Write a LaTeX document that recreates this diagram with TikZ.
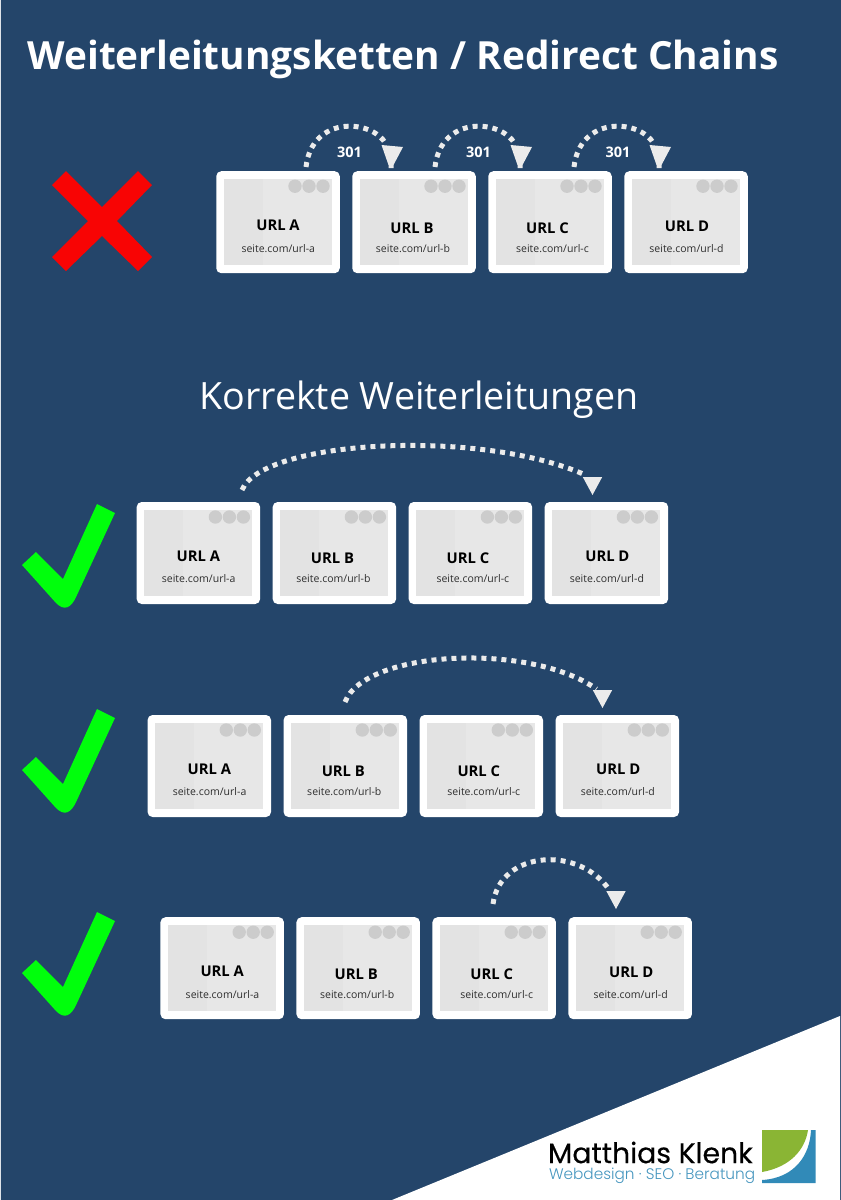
\documentclass[tikz,border=0pt]{standalone}
\usepackage{fontspec}
\setmainfont{Open Sans}
\newfontfamily\logofont[FakeBold=0.35]{Poppins}
\newfontfamily\tagfont{Poppins Light}
\usetikzlibrary{calc}
\definecolor{bgblue}{HTML}{24456A}
\definecolor{cardgrey}{HTML}{E7E7E7}
\definecolor{bandgrey}{HTML}{E3E3E3}
\definecolor{dotgrey}{HTML}{CCCCCC}
\definecolor{arcgrey}{HTML}{EBEBEB}
\definecolor{logogreen}{HTML}{8AB534}
\definecolor{logoblue}{HTML}{318AB8}
\definecolor{crossred}{HTML}{F80404}
\definecolor{checkgreen}{HTML}{00FF0C}
\tikzset{
  every node/.style={inner sep=0pt,outer sep=0pt},
  cardbox/.style={fill=white,rounded corners=5pt,minimum width=123.5pt,minimum height=102pt},
  titletext/.style={font=\fontsize{14.8}{16}\selectfont\bfseries,text=black},
  urltext/.style={font=\fontsize{10.5}{12}\selectfont,text=black!82},
  arcline/.style={draw=arcgrey,line width=5pt,dash pattern=on 5pt off 5pt},
  tipshape/.style={fill=arcgrey,draw=none},
  labeltext/.style={font=\fontsize{14.5}{16}\selectfont\bfseries,text=white},
}
% \cardat{name}{cx}{cy}{Letter}{letter}{title dx}{title dy}{url dx}
\newcommand{\cardat}[8]{%
  \node[cardbox] (#1) at (#2,#3) {};
  \fill[cardgrey] ($(#1.center)+(-54,-43)$) rectangle ($(#1.center)+(54,43)$);
  \fill[bandgrey] ($(#1.center)+(-54,-43)$) rectangle ($(#1.center)+(-15,43)$);
  \foreach \dx in {17,31,45}{\fill[dotgrey] ($(#1.center)+(\dx,-36)$) circle (6.7);}
  \node[titletext] at ($(#1.center)+(#6,#7)$) {URL #4};
  \node[urltext] at ($(#1.center)+(#8,26)$) {seite.com/url-#5};
}
\newcommand{\rowcards}[3]{%
  \cardat{#1a}{#2}{#3}{A}{a}{0}{3.3}{0.3}
  \cardat{#1b}{#2+136}{#3}{B}{b}{-2}{5.6}{-1}
  \cardat{#1c}{#2+272}{#3}{C}{c}{-2.5}{5.6}{2.5}
  \cardat{#1d}{#2+408}{#3}{D}{d}{1}{3.6}{0.5}
}
% funnel arrow tip: #1 = tip coordinate name
\newcommand{\bigtip}[1]{\fill[tipshape] ($(#1)+(-9.5,-23)$) -- ($(#1)+(12,-21)$) -- ($(#1)+(2.5,-3)$) -- ($(#1)+(2.5,0)$) -- ($(#1)+(-2.5,0)$) -- ($(#1)+(-2.5,-3)$) -- cycle;}
\newcommand{\smalltip}[1]{\fill[tipshape] ($(#1)+(-9.7,-18)$) -- ($(#1)+(9.7,-18)$) -- (#1) -- cycle;}
\newcommand{\chk}[1]{\fill[checkgreen] (22,#1+56) -- (36,#1+43) -- (63,#1+70) -- (97,#1-5) -- (115,#1+4) -- (77,#1+86) .. controls (71,#1+100) and (64,#1+102) .. (56,#1+94) -- cycle;}
\begin{document}
\begin{tikzpicture}[x=1pt,y=-1pt]
\useasboundingbox (0,0) rectangle (841,1200);
\fill[bgblue] (0,0) rectangle (841,1200);
\fill[white] (392,1200) -- (840,1016) -- (840,1200) -- cycle;
\fill[white!85!bgblue] (0,0) rectangle (0.7,1200);
% Title
\node[anchor=base west,font=\fontsize{38.8}{44}\selectfont\bfseries,text=white] (title) at (27.5,69) {Weiterleitungsketten / Redirect Chains};
\node[anchor=base,font=\fontsize{37.6}{42}\selectfont,text=white] (sub) at (419,409.5) {Korrekte Weiterleitungen};
% Cross
\fill[crossred] (52,185) -- (66,171) -- (102,207) -- (138,171) -- (152,185) -- (117,221) -- (152,257) -- (138,271) -- (102,236) -- (66,271) -- (52,257) -- (88,221) -- cycle;
% Row 0
\rowcards{r0}{278}{222.2}
\coordinate (s01) at (306,167); \coordinate (t01) at (391,168);
\coordinate (s02) at (435,167); \coordinate (t02) at (520,168);
\coordinate (s03) at (574,167); \coordinate (t03) at (659,168);
\draw[arcline] (s01) .. controls ($(s01)+(6,-52)$) and ($(s01)+(66,-48)$) .. ($(t01)+(-5,-24)$);
\draw[arcline] (s02) .. controls ($(s02)+(6,-52)$) and ($(s02)+(66,-48)$) .. ($(t02)+(-5,-24)$);
\draw[arcline] (s03) .. controls ($(s03)+(6,-52)$) and ($(s03)+(66,-48)$) .. ($(t03)+(-5,-24)$);
\bigtip{t01}\bigtip{t02}\bigtip{t03}
\node[labeltext] (l1) at (349.5,152.5) {301};
\node[labeltext] (l2) at (478.5,152.5) {301};
\node[labeltext] (l3) at (618,152.5) {301};
% Row 1
\rowcards{r1}{198.4}{553}
\coordinate (s1) at (242,490); \coordinate (t1) at (592.5,495);
\draw[arcline] (s1) .. controls (262,440) and (480,428) .. ($(t1)+(-7,-20)$);
\smalltip{t1}
\chk{509}
% Row 2
\rowcards{r2}{209.3}{766}
\coordinate (s2) at (345,702); \coordinate (t2) at (602.5,708);
\draw[arcline] (s2) .. controls (365,650) and (530,642) .. ($(t2)+(-6,-19)$);
\smalltip{t2}
\chk{714}
% Row 3
\rowcards{r3}{222.2}{968.2}
\coordinate (s3) at (493,904); \coordinate (t3) at (616,909);
\draw[arcline] (s3) .. controls (500,850) and (580,845) .. ($(t3)+(-6,-18)$);
\smalltip{t3}
\chk{917}
% Logo
\node[anchor=west,font=\logofont\fontsize{28.3}{32}\selectfont,text=black] (brand) at (548,1152.5) {Matthias Klenk};
\node[anchor=west,font=\tagfont\fontsize{15.3}{18}\selectfont,text=logoblue!90!white] (tag) at (549,1176) {Webdesign · SEO · Beratung};
\fill[logoblue] (815.5,1130) -- (815.5,1183) -- (762,1183) -- (762,1180) .. controls (795,1178) and (810,1155) .. (811,1130) -- cycle;
\fill[logogreen] (762,1130) -- (808,1130) .. controls (805,1150) and (790,1167) .. (762,1172) -- cycle;
\end{tikzpicture}
\end{document}
